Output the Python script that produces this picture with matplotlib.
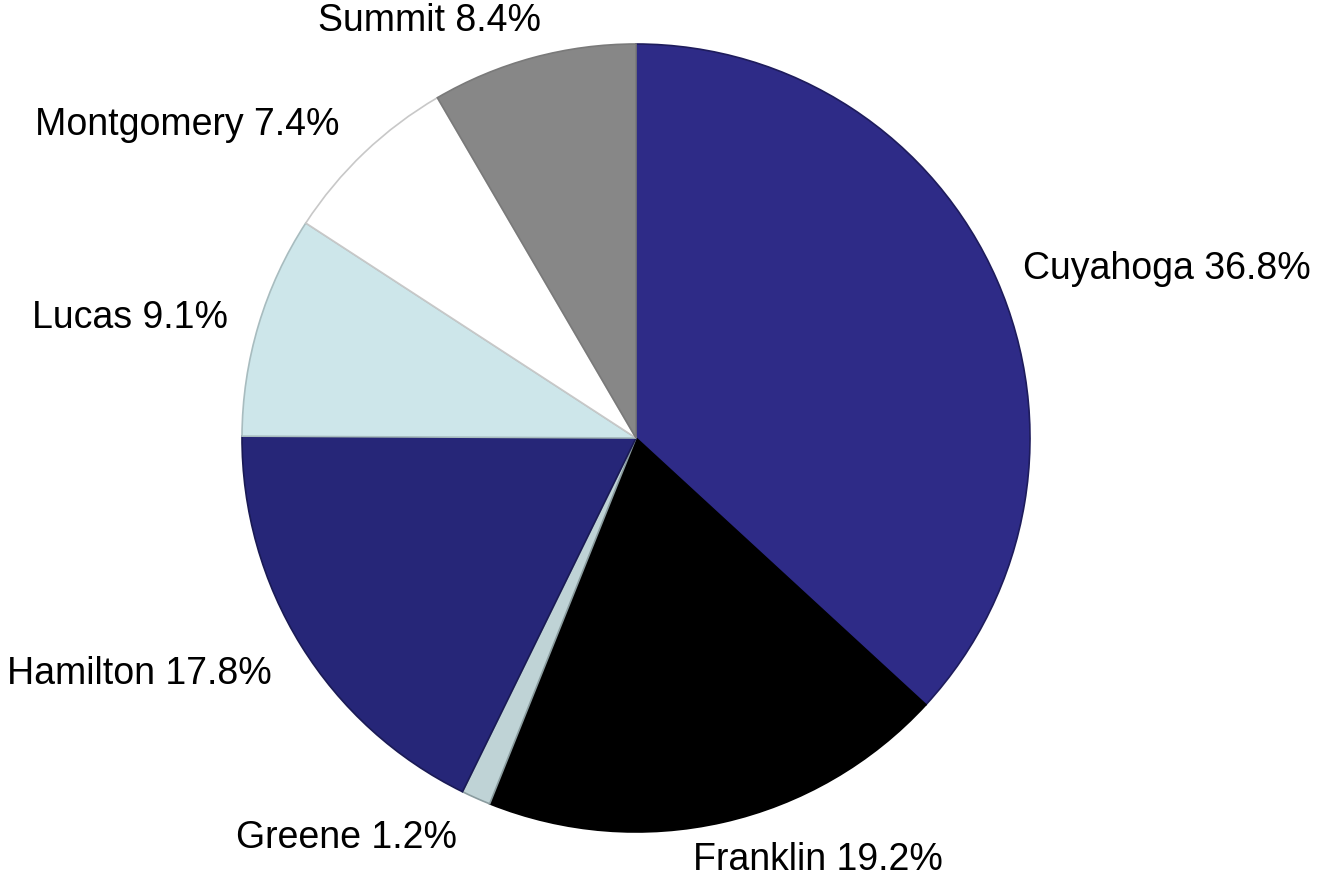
import matplotlib.pyplot as plt

plt.rcParams['font.family'] = ['Liberation Sans', 'DejaVu Sans']

# share of total by county
counties = ['Cuyahoga', 'Franklin', 'Greene', 'Hamilton', 'Lucas', 'Montgomery', 'Summit']
shares = [36.8, 19.2, 1.2, 17.8, 9.1, 7.4, 8.4]
fills = ['#2E2B87', '#000000', '#BFD3D6', '#262678', '#CDE6EA', '#FFFFFF', '#878787']
edges = ['#1E1C5C', '#000000', '#8A9C9F', '#1A1A55', '#A8BCBF', '#C8C8C8', '#7A7A7A']

labels = [f'{c} {s:.1f}%' for c, s in zip(counties, shares)]

# small label nudges in pixels (right, down) to match the original layout
nudge_px = [(-3, 2), (-37, 7), (-6, 11), (-3, 12), (0, 2), (-3, -5), (16, -6)]

fig = plt.figure(figsize=(13.2, 8.82), dpi=100)
ax = fig.add_axes([242 / 1320, 50 / 882, 788 / 1320, 788 / 882])

wedges, texts = ax.pie(shares, labels=labels, colors=fills, startangle=90,
                       counterclock=False, labeldistance=1.08, radius=1,
                       wedgeprops=dict(linewidth=1.2),
                       textprops=dict(fontsize=27, color='#000000'))
for w, ec in zip(wedges, edges):
    w.set_edgecolor(ec)

px = 1 / 394  # one pixel in data units (radius is 394 px)
for t, (dx, dy) in zip(texts, nudge_px):
    x, y = t.get_position()
    t.set_position((x + dx * px, y - dy * px))

ax.set_xlim(-1, 1)
ax.set_ylim(-1, 1)
ax.set_aspect('equal')
ax.axis('off')

fig.savefig('out.png', dpi=100)
